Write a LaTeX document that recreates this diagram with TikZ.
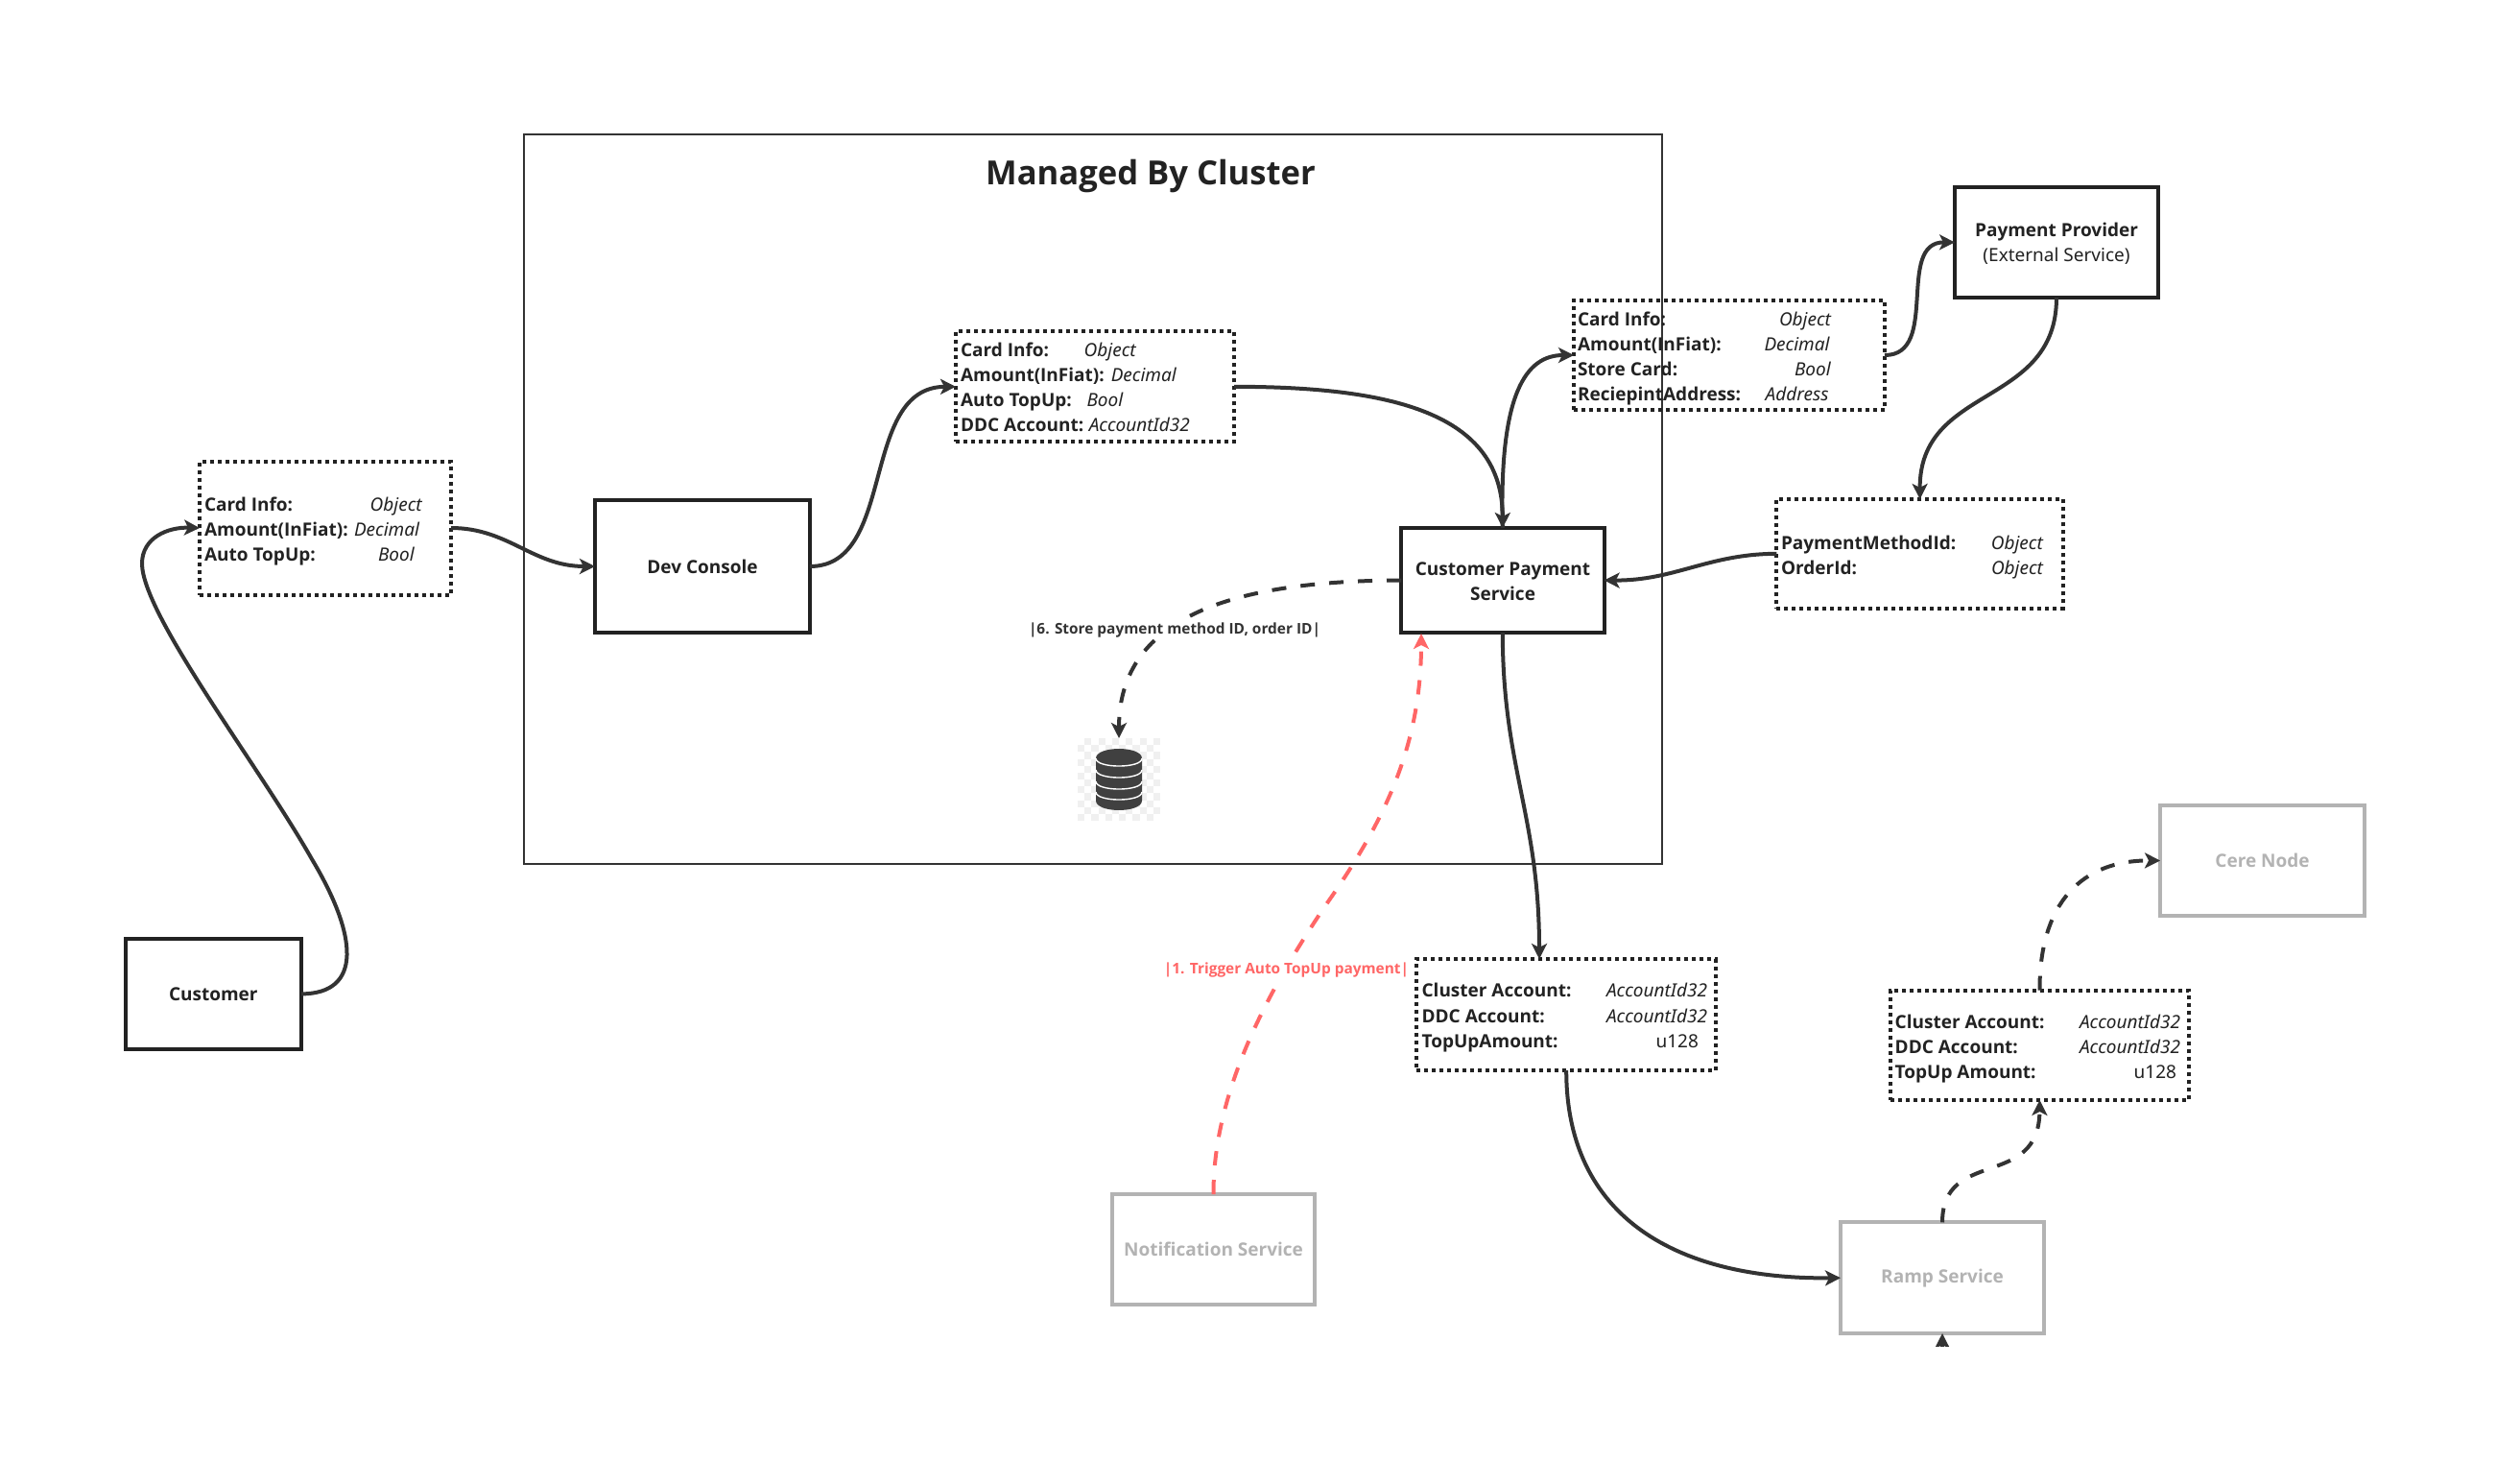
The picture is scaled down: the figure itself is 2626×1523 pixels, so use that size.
\documentclass[tikz,border=0pt]{standalone}
\usepackage{fontspec}
\setmainfont{Noto Sans}
\newfontfamily\boldfam{Open Sans}
\usetikzlibrary{arrows.meta,calc}
\definecolor{ink}{HTML}{222222}
\definecolor{wire}{HTML}{333333}
\definecolor{faded}{HTML}{B3B3B3}
\definecolor{alert}{HTML}{FF6666}
\tikzset{
  x=1pt,y=-1pt,
  every node/.style={inner sep=0pt,outer sep=0pt},
  txt/.style={font=\fontsize{19}{26}\selectfont,text=ink,align=center},
  bsize/.style={font=\fontsize{19}{26}\selectfont\boldfam\bfseries},
  solidbox/.style={draw=ink,line width=4pt,txt,bsize},
  greybox/.style={draw=faded,line width=4pt,text=faded,bsize},
  dotbox/.style={draw=ink,line width=4pt,dash pattern=on 4pt off 4pt},
  lab/.style={txt,anchor=mid west,yshift=-5pt,bsize},
  val/.style={txt,anchor=mid west,yshift=-5pt,font=\fontsize{19}{26}\selectfont\itshape},
  plain/.style={txt,anchor=mid west,yshift=-5pt},
  tip/.style={-{Stealth[length=16pt,width=16pt,inset=4pt]}},
  conn/.style={draw=wire,line width=4pt,tip},
  dconn/.style={conn,dash pattern=on 15pt off 15pt},
  rconn/.style={draw=alert,line width=4pt,tip,dash pattern=on 15pt off 15pt},
  edgelab/.style={fill=white,inner sep=2pt,font=\fontsize{15.4}{18}\selectfont\boldfam\bfseries},
}
\begin{document}
\begin{tikzpicture}
\useasboundingbox[fill=white] (0,0) rectangle (2626,1523);

% cluster frame
\node[draw=wire,line width=2pt,minimum width=1186.5pt,minimum height=760.5pt] (frame) at (1138.75,519.75) {};
\node[txt,font=\fontsize{34.6}{40}\selectfont\boldfam\bfseries] (title) at (1199,184) {Managed By Cluster};

% solid boxes
\node[solidbox,minimum width=183.5pt,minimum height=114.7pt] (cust) at (222.3,1035.4) {Customer};
\node[solidbox,minimum width=224pt,minimum height=138.2pt] (dev) at (732,590) {\raisebox{-1pt}{Dev Console}};
\node[solidbox,minimum width=211.6pt,minimum height=109pt] (cps) at (1565.8,604.5) {};
\node[txt,bsize] (cpst) at (1566,605.5) {Customer Payment\\Service};
\node[solidbox,minimum width=212pt,minimum height=115pt] (pp) at (2143,252.5) {};
\node[txt,bsize] (ppa) at (2143,242) {Payment Provider};
\node[txt] (ppb) at (2143,266.7) {(External Service)};

% faded boxes
\node[greybox,minimum width=211pt,minimum height=115pt] (notif) at (1264.5,1301.5) {\raisebox{-1.5pt}{Notification Service}};
\node[greybox,minimum width=212pt,minimum height=115.5pt] (ramp) at (2024,1331.2) {\raisebox{-1.5pt}{Ramp Service}};
\node[greybox,minimum width=213pt,minimum height=115pt] (cere) at (2357.5,896.5) {Cere Node};

% dotted data boxes
\node[dotbox,minimum width=262pt,minimum height=139pt] (d1) at (339,550) {};
\node[lab] (d1a) at (213,525) {Card Info:};
\node[lab] (d1b) at (213,551) {Amount(InFiat):};
\node[lab] (d1c) at (213,577) {Auto TopUp:};
\node[val] (d1x) at (385.7,525) {Object};
\node[val] (d1y) at (369,551) {Decimal};
\node[val] (d1z) at (394,577) {Bool};

\node[dotbox,minimum width=290pt,minimum height=115pt] (d2) at (1141,402.8) {};
\node[lab] (d2a) at (1001,364.3) {Card Info:};
\node[lab] (d2b) at (1001,390) {Amount(InFiat):};
\node[lab] (d2c) at (1001,416) {Auto TopUp:};
\node[lab] (d2d) at (1001,442.3) {DDC Account:};
\node[val] (d2x) at (1129.7,364.3) {Object};
\node[val] (d2y) at (1157.8,390) {Decimal};
\node[val] (d2z) at (1132.5,416) {Bool};
\node[val] (d2w) at (1134.8,442.3) {AccountId32};

\node[dotbox,minimum width=324pt,minimum height=114pt] (d3) at (1802,370) {};
\node[lab] (d3a) at (1644,332.3) {Card Info:};
\node[lab] (d3b) at (1644,358) {Amount(InFiat):};
\node[lab] (d3c) at (1644,384.2) {Store Card:};
\node[lab] (d3d) at (1644,409.4) {ReciepintAddress:};
\node[val] (d3x) at (1854,332.3) {Object};
\node[val] (d3y) at (1838.5,358) {Decimal};
\node[val] (d3z) at (1870,384.2) {Bool};
\node[val] (d3w) at (1839.7,409.4) {Address};

\node[dotbox,minimum width=298.5pt,minimum height=113.7pt] (pm) at (2000.7,576.8) {};
\node[lab] (pma) at (1856,564.5) {PaymentMethodId:};
\node[lab] (pmb) at (1856,591) {OrderId:};
\node[val] (pmx) at (2074.8,564.5) {Object};
\node[val] (pmy) at (2075,591) {Object};

\node[dotbox,minimum width=311.5pt,minimum height=116pt] (clu) at (1632.2,1057) {};
\node[lab] (clua) at (1481.6,1031.3) {Cluster Account:};
\node[lab] (club) at (1481.6,1058) {DDC Account:};
\node[lab] (cluc) at (1481.6,1084.3) {TopUpAmount:};
\node[val] (clux) at (1674,1031.3) {AccountId32};
\node[val] (cluy) at (1674,1058) {AccountId32};
\node[plain] (cluz) at (1725.5,1084.3) {u128};

\node[dotbox,minimum width=311pt,minimum height=114.4pt] (top) at (2125.5,1088.8) {};
\node[lab] (topa) at (1974.7,1063.8) {Cluster Account:};
\node[lab] (topb) at (1974.7,1090.2) {DDC Account:};
\node[lab] (topc) at (1974.7,1115.6) {TopUp Amount:};
\node[val] (topx) at (2167,1063.8) {AccountId32};
\node[val] (topy) at (2167,1090.2) {AccountId32};
\node[plain] (topz) at (2223.7,1115.6) {u128};

% database icon
\node[minimum width=86pt,minimum height=86pt] (db) at (1166,812) {};
\foreach \i in {0,...,11}{\foreach \j in {0,...,11}{
  \pgfmathparse{int(mod(\i+\j,2))}
  \ifnum\pgfmathresult=1
    \fill[black!6] ({1123+\i*7.167},{769+\j*7.167}) rectangle ++(7.167,7.167);
  \fi}}
\fill[black!75] (1142,790) .. controls (1142,776.7) and (1190,776.7) .. (1190,790) -- (1190,834)
  .. controls (1190,847.3) and (1142,847.3) .. (1142,834) -- cycle;
\foreach \yy in {790,802,814,825}{
  \draw[white,line width=1.4pt] (1142,\yy) .. controls (1142,{\yy+10.7}) and (1190,{\yy+10.7}) .. (1190,\yy);}

% connectors
\coordinate (cluin) at (1604,999);
\coordinate (cpsred) at (1481,660);
\coordinate (rampstub) at (2024,1412);
\draw[conn] (cust.east) .. controls (378,1035) and (373,975) .. (325,895)
  .. controls (270,798) and (148,640) .. (148,587) .. controls (148,560) and (175,549) .. (d1.west);
\draw[conn] (d1.east) .. controls (530,550) and (555,590) .. (dev.west);
\draw[conn] (dev.east) .. controls (935,590) and (895,403) .. (d2.west);
\draw[conn] (d2.east) .. controls (1450,403) and (1566,430) .. (cps.north);
\draw[conn] (cps.north) .. controls (1562,410) and (1590,370) .. (d3.west);
\draw[conn] (d3.east) .. controls (2022,370) and (1975,252) .. (pp.west);
\draw[conn] (pp.south) .. controls (2143,425) and (2000,400) .. (pm.north);
\draw[conn] (pm.west) .. controls (1780,577) and (1745,605) .. (cps.east);
\draw[conn] (cps.south) .. controls (1566,800) and (1604,850) .. (cluin);
\draw[conn] (clu.south) .. controls (1632,1270) and (1750,1333) .. (ramp.west);
\draw[dconn] (ramp.north) .. controls (2024,1195) and (2125,1240) .. (top.south);
\draw[dconn] (top.north) .. controls (2125,940) and (2170,896) .. (cere.west);
\draw[dconn] (cps.west) .. controls (1290,605) and (1166,640) .. (db.north);
\draw[rconn] (notif.north) .. controls (1264,1130) and (1330,1020) .. (1380,945)
  .. controls (1440,860) and (1481,780) .. (cpsred);
\begin{scope}
  \clip (2000,1389) rectangle (2050,1402);
  \draw[conn] (rampstub) -- (ramp.south);
\end{scope}

% connector labels
\node[edgelab,text=wire] (l6) at (1224,656) {|6. Store payment method ID, order ID|};
\node[edgelab,text=alert] (l1) at (1340.5,1010) {|1. Trigger Auto TopUp payment|};
\end{tikzpicture}
\end{document}
